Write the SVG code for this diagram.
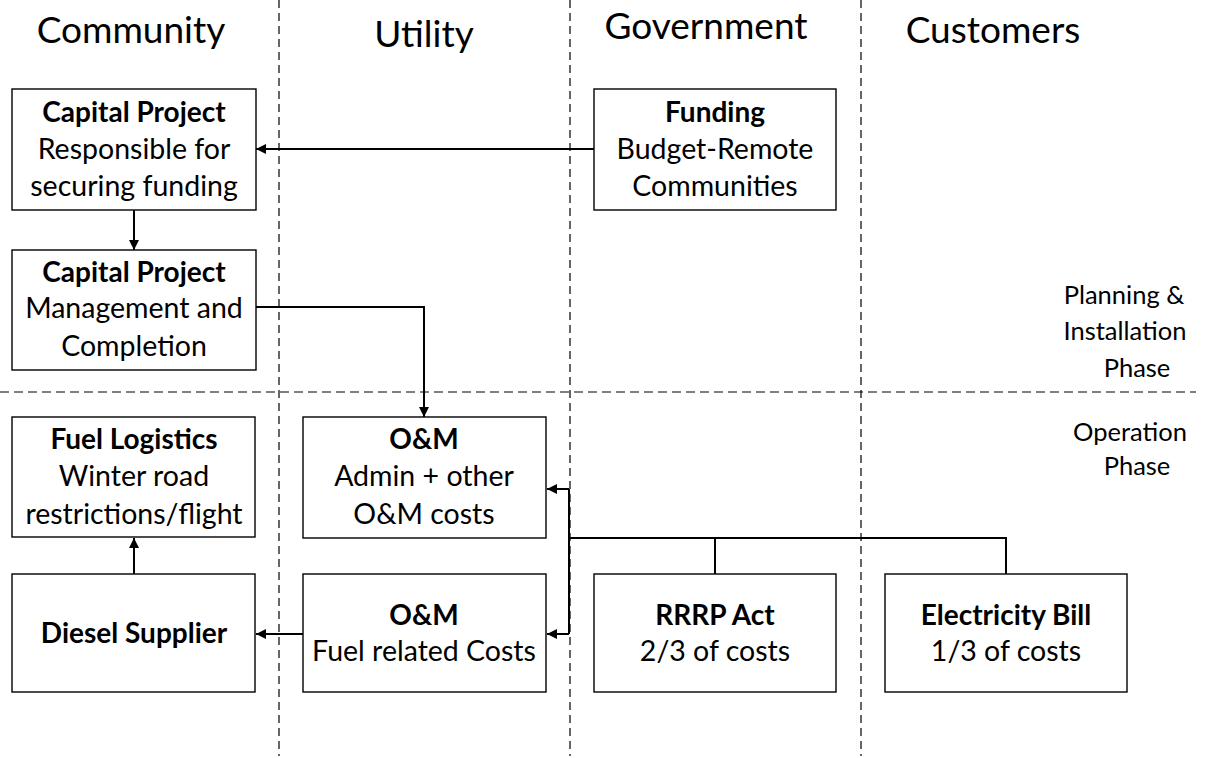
<svg xmlns="http://www.w3.org/2000/svg" width="1219" height="758" viewBox="0 0 1219 758">
<defs>
<marker id="ah" viewBox="0 0 10 10" refX="10" refY="5" markerWidth="10" markerHeight="10" markerUnits="userSpaceOnUse" orient="auto">
<path d="M0,0 L10,5 L0,10 z" fill="#000"/>
</marker>
<style>
text{font-family:Lato,"Open Sans","Liberation Sans",sans-serif;fill:#000;text-anchor:middle}
.t{font-size:37px}
.b{font-size:28px;font-weight:bold}
.n{font-size:28.5px}
.p{font-size:25.5px}
.box{fill:#fff;stroke:#000;stroke-width:1.4}
.div{stroke:#000;stroke-width:1.2;stroke-dasharray:8,5;fill:none}
.c{stroke:#000;stroke-width:2;fill:none}
</style>
</defs>
<rect width="1219" height="758" fill="#fff"/>
<g id="lanes">
<line class="div" x1="279" y1="0" x2="279" y2="756"/>
<line class="div" x1="570" y1="0" x2="570" y2="756"/>
<line class="div" x1="861" y1="0" x2="861" y2="756"/>
<line class="div" x1="0" y1="392" x2="1196" y2="392" style="stroke-dasharray:9,5"/>
<text class="t" x="131" y="43">Community</text>
<text class="t" x="424" y="47">Utility</text>
<text class="t" x="706" y="39">Government</text>
<text class="t" x="993" y="43">Customers</text>
<text class="p" x="1124" y="304">Planning &amp;</text>
<text class="p" x="1125" y="340">Installation</text>
<text class="p" x="1137" y="377">Phase</text>
<text class="p" x="1130" y="441">Operation</text>
<text class="p" x="1137" y="475">Phase</text>
</g>
<g id="connectors">
<line class="c" x1="594" y1="149" x2="256" y2="149" marker-end="url(#ah)"/>
<line class="c" x1="134" y1="210" x2="134" y2="250" marker-end="url(#ah)"/>
<polyline class="c" points="256,307 424,307 424,417" marker-end="url(#ah)"/>
<line class="c" x1="134" y1="574" x2="134" y2="538" marker-end="url(#ah)"/>
<line class="c" x1="303" y1="634" x2="256" y2="634" marker-end="url(#ah)"/>
<polyline class="c" points="569,489 569,634"/>
<line class="c" x1="569" y1="489" x2="547" y2="489" marker-end="url(#ah)"/>
<line class="c" x1="569" y1="634" x2="547" y2="634" marker-end="url(#ah)"/>
<polyline class="c" points="569,538 1006,538 1006,574"/>
<line class="c" x1="715" y1="538" x2="715" y2="574"/>
</g>
<g id="cap1">
<rect class="box" x="12" y="89" width="244" height="121"/>
<text class="b" x="134" y="122">Capital Project</text>
<text class="n" x="134" y="159">Responsible for</text>
<text class="n" x="134" y="196">securing funding</text>
</g>
<g id="funding">
<rect class="box" x="594" y="89" width="242" height="121"/>
<text class="b" x="715" y="122">Funding</text>
<text class="n" x="715" y="159">Budget-Remote</text>
<text class="n" x="715" y="196">Communities</text>
</g>
<g id="cap2">
<rect class="box" x="12" y="250" width="244" height="120"/>
<text class="b" x="134" y="282">Capital Project</text>
<text class="n" x="134" y="318">Management and</text>
<text class="n" x="134" y="356">Completion</text>
</g>
<g id="fuel">
<rect class="box" x="12" y="417" width="243" height="120"/>
<text class="b" x="134" y="449">Fuel Logistics</text>
<text class="n" x="134" y="486">Winter road</text>
<text class="n" x="134" y="524">restrictions/flight</text>
</g>
<g id="diesel">
<rect class="box" x="12" y="574" width="243" height="118"/>
<text class="b" x="134" y="643">Diesel Supplier</text>
</g>
<g id="om1">
<rect class="box" x="303" y="417" width="243" height="121"/>
<text class="b" x="424" y="449">O&amp;M</text>
<text class="n" x="424" y="486">Admin + other</text>
<text class="n" x="424" y="524">O&amp;M costs</text>
</g>
<g id="om2">
<rect class="box" x="303" y="574" width="243" height="118"/>
<text class="b" x="424" y="625">O&amp;M</text>
<text class="n" x="424" y="661">Fuel related Costs</text>
</g>
<g id="rrrp">
<rect class="box" x="594" y="574" width="242" height="118"/>
<text class="b" x="715" y="625">RRRP Act</text>
<text class="n" x="715" y="661">2/3 of costs</text>
</g>
<g id="bill">
<rect class="box" x="885" y="574" width="242" height="118"/>
<text class="b" x="1006" y="625">Electricity Bill</text>
<text class="n" x="1006" y="661">1/3 of costs</text>
</g>
</svg>
